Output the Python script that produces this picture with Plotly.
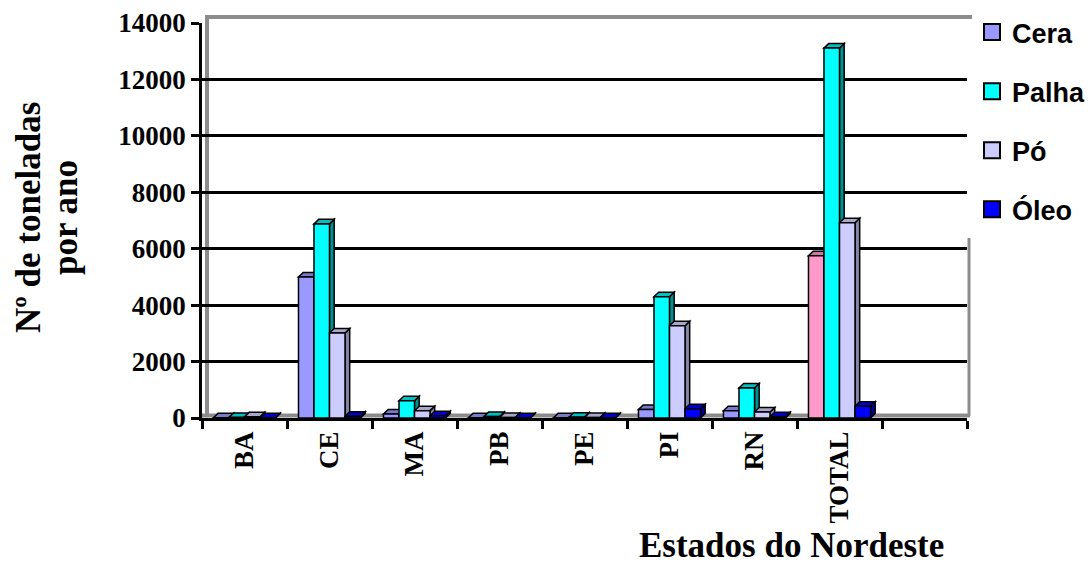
import plotly.graph_objects as go

categories = ["BA", "CE", "MA", "PB", "PE", "PI", "RN", "TOTAL", " "]
cera = [10, 5000, 140, 10, 10, 300, 260, 5750, None]
palha = [20, 6880, 612, 50, 30, 4300, 1065, 13110, None]
po = [40, 3010, 260, 15, 15, 3270, 210, 6920, None]
oleo = [10, 60, 80, 10, 10, 330, 40, 415, None]

series_names = ["Cera", "Palha", "Pó", "Óleo"]
series_values = [cera, palha, po, oleo]
y_ticks = [0, 2000, 4000, 6000, 8000, 10000, 12000, 14000]

front_colors = ["#9999FF", "#00FFFF", "#CCCCFF", "#0000FF"]
side_colors = ["#5C5C99", "#009090", "#8585A8", "#000090"]
top_colors = ["#7A7ACC", "#00C0C0", "#A8A8CC", "#0000C8"]
total_cera_front = "#FF99CC"
total_cera_side = "#A06080"
total_cera_top = "#CC7AA3"

W, H = 1089, 569
L, R, T, B = 202, 122, 23, 151
PW, PH = W - L - R, H - T - B

def px(xp):
    return (xp - L) / PW

def py(yp):
    return (H - B - yp) / PH

bargap = 0.27
bw = (1 - bargap) / 4
dx = 0.055
dy = 160

fig = go.Figure()
shapes = []
for k, (name, vals) in enumerate(zip(series_names, series_values)):
    off = -(1 - bargap) / 2 + bw * k
    colors = []
    for i, c in enumerate(categories):
        if k == 0 and c == "TOTAL":
            colors.append(total_cera_front)
        else:
            colors.append(front_colors[k])
    fig.add_trace(go.Bar(
        x=categories, y=vals, name=name, showlegend=False,
        width=bw, offset=off,
        marker=dict(color=colors, line=dict(color="black", width=1.5)),
    ))
    for i, v in enumerate(vals):
        if v is None:
            continue
        sc = total_cera_side if (k == 0 and categories[i] == "TOTAL") else side_colors[k]
        tc = total_cera_top if (k == 0 and categories[i] == "TOTAL") else top_colors[k]
        x0 = i + off
        x1 = x0 + bw
        shapes.append(dict(
            type="path", xref="x", yref="y", layer="between",
            path=f"M {x1},0 L {x1+dx},{dy} L {x1+dx},{v+dy} L {x1},{v} Z",
            fillcolor=sc, line=dict(color="black", width=1.5)))
        shapes.append(dict(
            type="path", xref="x", yref="y", layer="between",
            path=f"M {x0},{v} L {x1},{v} L {x1+dx},{v+dy} L {x0+dx},{v+dy} Z",
            fillcolor=tc, line=dict(color="black", width=1.5)))

# legend entries
for k, name in enumerate(series_names):
    fig.add_trace(go.Scatter(
        x=[None], y=[None], mode="markers", name=name, legendgroup=name,
        marker=dict(symbol="square", size=16, color=front_colors[k],
                    line=dict(color="black", width=2)),
    ))

grey = "#8C8C8C"
# back wall / floor decoration
shapes += [
    dict(type="line", xref="paper", yref="paper", layer="below",
         x0=px(205), x1=px(972), y0=py(17), y1=py(17), line=dict(color=grey, width=4)),
    dict(type="line", xref="paper", yref="paper", layer="below",
         x0=px(207), x1=px(207), y0=py(17), y1=py(415), line=dict(color=grey, width=4)),
    dict(type="line", xref="paper", yref="paper", layer="below",
         x0=px(969), x1=px(969), y0=py(238), y1=py(416), line=dict(color=grey, width=3)),
    dict(type="line", xref="paper", yref="paper", layer="between",
         x0=px(202), x1=px(970), y0=py(415.5), y1=py(415.5), line=dict(color=grey, width=4)),
]

tnr = "Liberation Serif"
fig.update_layout(
    width=W, height=H,
    margin=dict(l=L, r=R, t=T, b=B, autoexpand=False),
    paper_bgcolor="white", plot_bgcolor="white",
    barmode="overlay",
    shapes=shapes,
    showlegend=True,
    legend=dict(
        x=px(972), y=py(8), xanchor="left", yanchor="top",
        font=dict(family="Liberation Sans", size=27, color="black", weight="bold"),
        tracegroupgap=21, itemsizing="trace", bgcolor="rgba(0,0,0,0)",
    ),
    xaxis=dict(
        type="category", categoryorder="array", categoryarray=categories,
        range=[-0.5, len(categories) - 0.5],
        tickson="boundaries", ticks="outside", ticklen=8, tickwidth=2.5, tickcolor="black",
        showline=True, linecolor="black", linewidth=2.5,
        showgrid=False, tickangle=-90,
        tickfont=dict(family=tnr, size=27, color="black", weight="bold"),
    ),
    yaxis=dict(
        range=[0, 14000], tickvals=y_ticks, ticktext=[str(t) for t in y_ticks],
        ticks="outside", ticklen=8, tickwidth=2.5, tickcolor="black",
        showline=True, linecolor="black", linewidth=2.5,
        showgrid=True, gridcolor="black", gridwidth=2.5,
        zeroline=False,
        tickfont=dict(family=tnr, size=27, color="black", weight="bold"),
    ),
    annotations=[
        dict(text="Nº de toneladas", xref="paper", yref="paper",
             x=px(28), y=py(218), xanchor="center", yanchor="middle",
             textangle=-90, showarrow=False,
             font=dict(family=tnr, size=35, color="black", weight="bold")),
        dict(text="por ano", xref="paper", yref="paper",
             x=px(65), y=py(218), xanchor="center", yanchor="middle",
             textangle=-90, showarrow=False,
             font=dict(family=tnr, size=35, color="black", weight="bold")),
        dict(text="Estados do Nordeste", xref="paper", yref="paper",
             x=px(946), y=py(545), xanchor="right", yanchor="middle",
             showarrow=False,
             font=dict(family=tnr, size=35, color="black", weight="bold")),
    ],
)

fig.write_html(
    "out.html",
    config={"displayModeBar": False},
    post_script="document.body.style.margin='0';document.body.style.overflow='hidden';",
)
